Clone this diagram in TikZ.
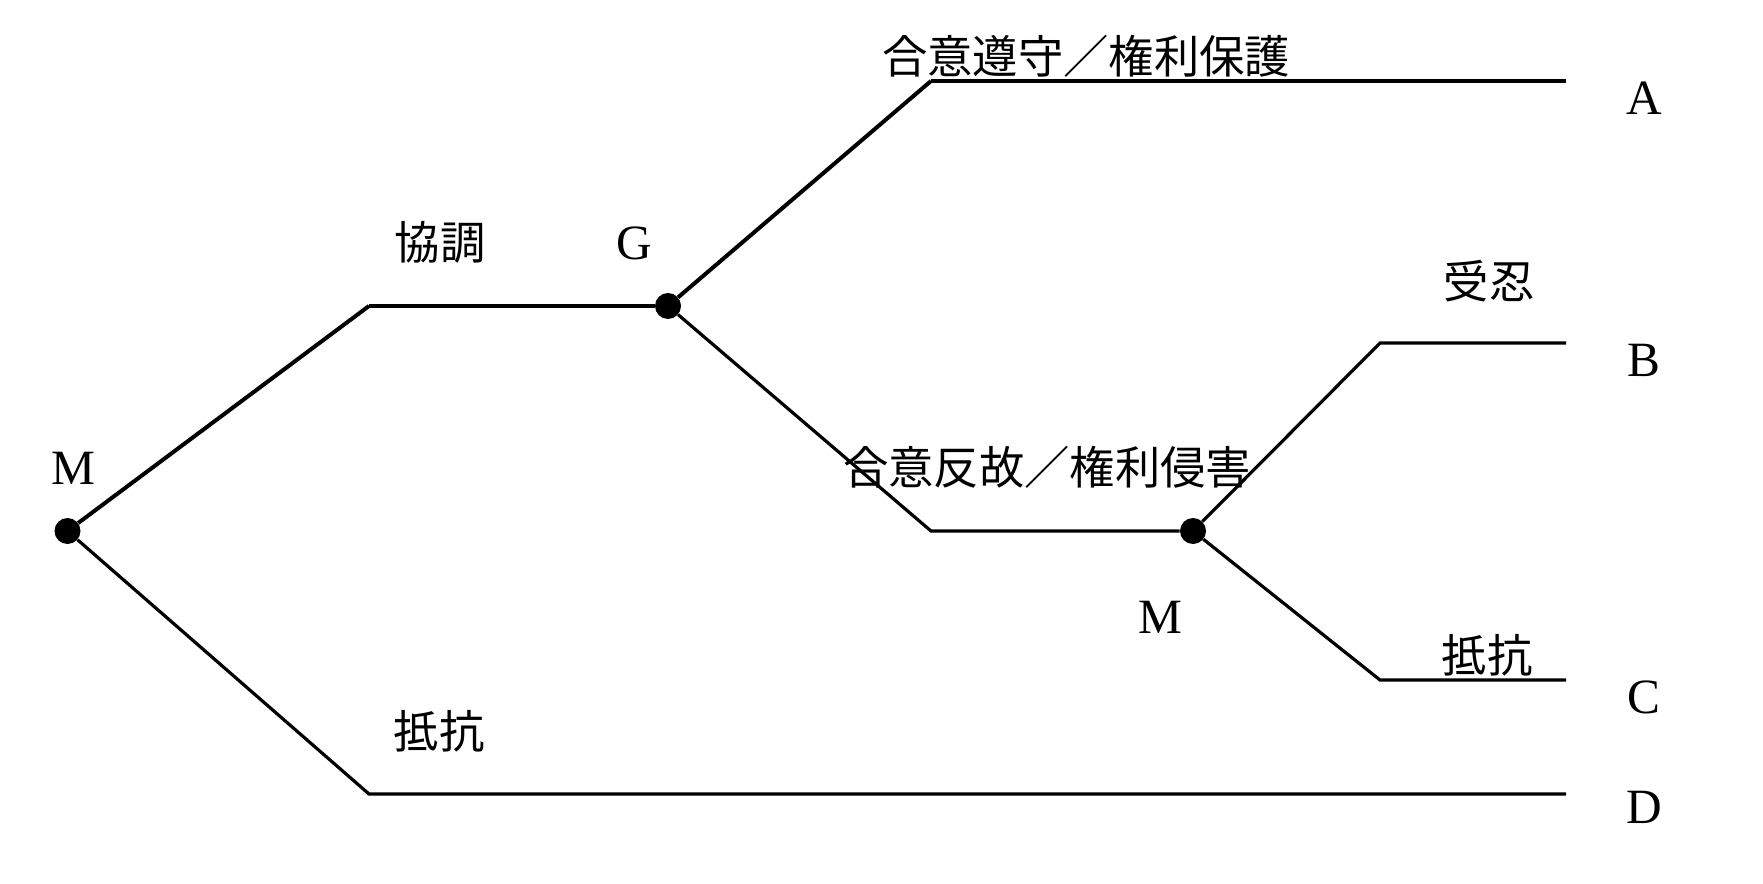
\documentclass[tikz,border=0pt]{standalone}
\usepackage{fontspec}
\setmainfont{Liberation Serif}
\newfontfamily\cjk{Noto Sans CJK JP}
\begin{document}
\begin{tikzpicture}[x=0.75pt,y=-0.75pt,
  branch/.style={line width=2.4pt,line join=miter},
  thick branch/.style={line width=3pt},
  dotnode/.style={circle,fill=black,inner sep=0pt,minimum size=19.5pt},
  lat/.style={font=\fontsize{37}{40}\selectfont,inner sep=0pt},
  jp/.style={font=\cjk\fontsize{34}{38}\selectfont,inner sep=0pt}]
\useasboundingbox (0,0) rectangle (1763,884);
% decision nodes
\node[dotnode] (m1) at (67.5,531) {};
\node[dotnode] (g) at (668,306) {};
\node[dotnode] (m2) at (1193,531) {};
% corners and ends
\coordinate (c1) at (369,306);
\coordinate (c2) at (931,81);
\coordinate (eA) at (1566,81);
\coordinate (c3) at (931,531);
\coordinate (c4) at (1380,343);
\coordinate (eB) at (1566,343);
\coordinate (c5) at (1380,680);
\coordinate (eC) at (1566,680);
\coordinate (c6) at (369,794);
\coordinate (eD) at (1566,794);
% branches
\draw[thick branch] (m1) -- (c1);
\draw[branch] (c1) -- (g);
\draw[thick branch] (g) -- (c2);
\draw[branch] (c2) -- (eA);
\draw[branch] (g) -- (c3) -- (m2);
\draw[branch] (m2) -- (c4) -- (eB);
\draw[branch] (m2) -- (c5) -- (eC);
\draw[branch] (m1) -- (c6) -- (eD);
% labels
\node[lat] (lm1) at (73,468) {M};
\node[lat] (lg) at (634,243) {G};
\node[lat] (lm2) at (1160,617) {M};
\node[lat] (la) at (1644,98) {A};
\node[lat] (lb) at (1644,360) {B};
\node[lat] (lc) at (1644,697) {C};
\node[lat] (ld) at (1644,807) {D};
\node[jp] (t1) at (440,242) {協調};
\node[jp] (t2) at (1086,56) {合意遵守／権利保護};
\node[jp] (t3) at (1047,467) {合意反故／権利侵害};
\node[jp] (t4) at (1489,281) {受忍};
\node[jp] (t5) at (1487,655) {抵抗};
\node[jp] (t6) at (439,731) {抵抗};
\end{tikzpicture}
\end{document}
